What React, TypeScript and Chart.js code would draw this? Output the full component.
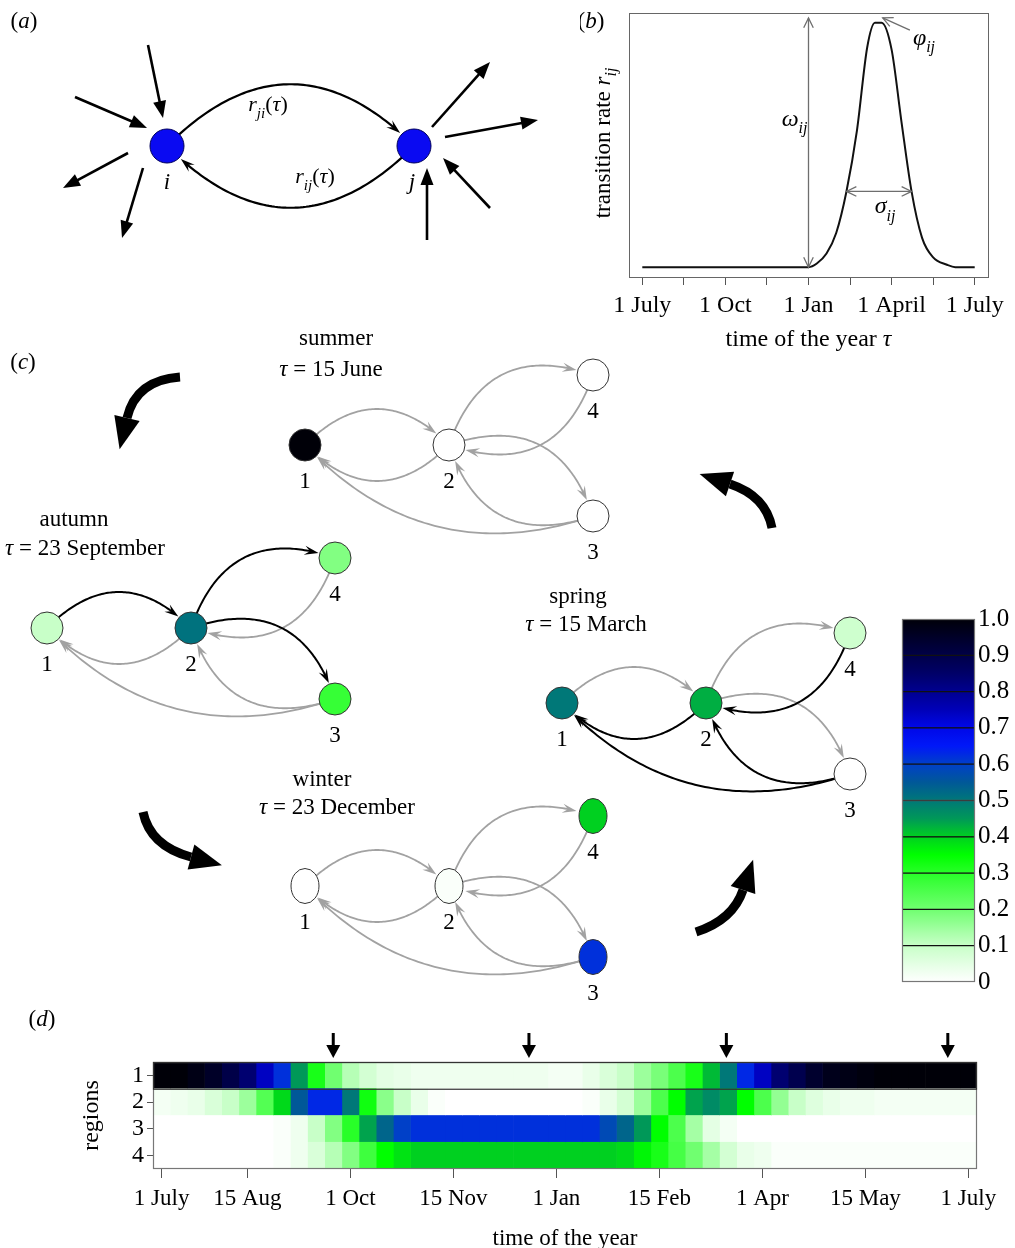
import React, { useEffect, useRef } from 'react';
import { Chart, registerables } from 'chart.js';
Chart.register(...registerables);

const FONT = '"Liberation Serif", "Times New Roman", serif';
Chart.defaults.font.family = FONT;
Chart.defaults.color = '#000';

// ---------------- colour scale ----------------
const CMAP_STOPS = [0, 0.1, 0.2, 0.3, 0.35, 0.4, 0.45, 0.5, 0.55, 0.6, 0.65, 0.7, 0.75, 0.8, 0.85, 0.9, 1.0];
const CMAP_COLORS = ['#ffffff', '#c8ffc8', '#70ff70', '#28ff28', '#00ff00', '#00d020', '#009858', '#007878', '#005898', '#0040c8', '#0018f8', '#0008e8', '#0000b8', '#000090', '#000068', '#000048', '#000008'];

// ---------------- panel (d): heat map ----------------
const HEAT_ROWS = ['1', '2', '3', '4'];
const REGION1 = [1.0, 1.0, 0.98, 0.95, 0.9, 0.84, 0.74, 0.62, 0.45, 0.32, 0.2, 0.12, 0.08, 0.05, 0.04, 0.03, 0.03, 0.03, 0.03, 0.03, 0.03, 0.03, 0.03, 0.02,
  0.02, 0.04, 0.07, 0.1, 0.15, 0.19, 0.25, 0.32, 0.42, 0.5, 0.63, 0.74, 0.84, 0.89, 0.94, 0.97, 0.98, 0.99, 1.0, 1.0, 1.0, 1.0, 1.0, 1.0];
const REGION2 = [0.02, 0.03, 0.04, 0.07, 0.1, 0.15, 0.24, 0.39, 0.55, 0.63, 0.63, 0.5, 0.33, 0.17, 0.1, 0.04, 0.01, 0, 0, 0, 0, 0, 0, 0,
  0, 0.01, 0.04, 0.08, 0.15, 0.25, 0.35, 0.44, 0.47, 0.44, 0.35, 0.25, 0.16, 0.1, 0.06, 0.04, 0.03, 0.03, 0.02, 0.02, 0.02, 0.02, 0.02, 0.02];
const REGION3 = [0, 0, 0, 0, 0, 0, 0, 0.01, 0.03, 0.1, 0.18, 0.3, 0.44, 0.53, 0.6, 0.62, 0.62, 0.62, 0.62, 0.62, 0.62, 0.62, 0.62, 0.62,
  0.62, 0.62, 0.58, 0.53, 0.45, 0.35, 0.25, 0.14, 0.05, 0.02, 0, 0, 0, 0, 0, 0, 0, 0, 0, 0, 0, 0, 0, 0];
const REGION4 = [0, 0, 0, 0, 0, 0, 0, 0.01, 0.03, 0.07, 0.12, 0.18, 0.27, 0.35, 0.38, 0.4, 0.4, 0.4, 0.4, 0.4, 0.4, 0.4, 0.4, 0.4,
  0.4, 0.4, 0.4, 0.39, 0.36, 0.32, 0.26, 0.2, 0.14, 0.08, 0.04, 0.03, 0.01, 0.01, 0.01, 0.01, 0.01, 0.01, 0.01, 0.01, 0.01, 0.01, 0.01, 0.01];
const HEAT_TICK_POS = [0.5, 5.5, 11.5, 17.5, 23.5, 29.5, 35.5, 41.5, 47.5];
const HEAT_TICK_LABELS = ['1 July', '15 Aug', '1 Oct', '15 Nov', '1 Jan', '15 Feb', '1 Apr', '15 May', '1 July'];
const SEASON_MARKERS = [10.5, 21.9, 33.4, 46.3];

// ---------------- panel (b): transition rate ----------------
const RATE_MONTHS = [0, 6, 6.3, 6.65, 7.0, 7.37, 7.75, 8.12, 8.4, 8.64, 9.0, 9.35, 9.72, 10.1, 10.5, 11.0, 11.3, 12];
const RATE_VALUES = [0, 0, 0.015, 0.056, 0.14, 0.31, 0.56, 0.9, 1.0, 1.0, 0.89, 0.6, 0.31, 0.12, 0.04, 0.01, 0, 0];
const RATE_TICK_POS = [0, 1.5, 3, 4.5, 6, 7.5, 9, 10.5, 12];
const RATE_TICK_LABELS = ['1 July', '', '1 Oct', '', '1 Jan', '', '1 April', '', '1 July'];
const OMEGA_MONTH = 6;
const SIGMA_LEVEL = 0.31;
const SIGMA_FROM = 7.37;
const SIGMA_TO = 9.72;

// ---------------- colour bar ----------------
const CB_BREAKS = [0, 0.1, 0.2, 0.3, 0.4, 0.5, 0.6, 0.7, 0.8, 0.9, 1.0];
const CB_LABELS = ['0', '0.1', '0.2', '0.3', '0.4', '0.5', '0.6', '0.7', '0.8', '0.9', '1.0'];

// ---------------- panel (c): seasonal networks ----------------
const SEASON_NAMES = ['summer', 'autumn', 'winter', 'spring'];
const SEASON_DATES = ['15 June', '23 September', '23 December', '15 March'];
// node order: region 1, 2, 3, 4
const SUMMER_NODE_VALUES = [1.0, 0.0, 0.0, 0.0];
const AUTUMN_NODE_VALUES = [0.1, 0.51, 0.28, 0.18];
const WINTER_NODE_VALUES = [0.0, 0.01, 0.62, 0.4];
const SPRING_NODE_VALUES = [0.5, 0.43, 0.0, 0.09];
const NODE_NAMES = ['1', '2', '3', '4'];
const EDGE_LIST = [[1, 2], [2, 1], [2, 4], [4, 2], [2, 3], [3, 2], [3, 1]];
const SUMMER_ACTIVE = [0, 0, 0, 0, 0, 0, 0];
const AUTUMN_ACTIVE = [1, 0, 1, 0, 1, 0, 0];
const WINTER_ACTIVE = [0, 0, 0, 0, 0, 0, 0];
const SPRING_ACTIVE = [0, 1, 0, 1, 0, 1, 1];

// ---------------- layout (positions / styles) ----------------
const NET_ORIGINS = [[305, 445], [47, 628], [305, 886], [562, 703]];
const NET_SHAPE = [[0, 0], [144, 0], [288, 71], [288, -70]];
const TITLE_POS = [[336, 337, 331, 368], [74, 518, 85, 547], [322, 778, 337, 806], [578, 595, 586, 623]];
const A_NODE_POS = [[167, 146], [414, 146]];
const A_ARROWS = [[148, 45, 163, 118], [75, 97, 147, 128], [128, 153, 63, 188], [143, 168, 122, 238],
  [432, 127, 490, 62], [445, 137, 538, 120], [490, 208, 443, 158], [427, 240, 427, 168]];
const BIG_ARROWS = [
  { t: [180, 377], c: [136, 380], e: [127, 418] },
  { t: [143, 812], c: [150, 846], e: [191, 857] },
  { t: [696, 932], c: [733, 920], e: [743, 890] },
  { t: [772, 528], c: [766, 496], e: [730, 484] },
];
const NODE_R = 16;
const GRAY = '#a2a2a2';

function hexRgb(h: string) {
  return [parseInt(h.slice(1, 3), 16), parseInt(h.slice(3, 5), 16), parseInt(h.slice(5, 7), 16)];
}
function cmap(v: number): string {
  const x = Math.max(0, Math.min(1, v));
  let k = 0;
  while (k < CMAP_STOPS.length - 2 && x > CMAP_STOPS[k + 1]) k++;
  const t = (x - CMAP_STOPS[k]) / (CMAP_STOPS[k + 1] - CMAP_STOPS[k]);
  const a = hexRgb(CMAP_COLORS[k]);
  const b = hexRgb(CMAP_COLORS[k + 1]);
  const c = a.map((av, i) => Math.round(av + (b[i] - av) * t));
  return `rgb(${c[0]},${c[1]},${c[2]})`;
}

type Seg = { t: string; it?: boolean; sub?: boolean };
function drawRich(ctx: CanvasRenderingContext2D, segs: Seg[], x: number, y: number, size: number, align = 'center') {
  const fontOf = (s: Seg) => `${s.it ? 'italic ' : ''}${s.sub ? Math.round(size * 0.68) : size}px ${FONT}`;
  let w = 0;
  const ws = segs.map((s) => { ctx.font = fontOf(s); const m = ctx.measureText(s.t).width; w += m; return m; });
  let cx = align === 'left' ? x : align === 'right' ? x - w : x - w / 2;
  ctx.textAlign = 'left';
  ctx.textBaseline = 'alphabetic';
  segs.forEach((s, i) => {
    ctx.font = fontOf(s);
    ctx.fillText(s.t, cx, y + size * 0.33 + (s.sub ? size * 0.3 : 0));
    cx += ws[i];
  });
}
function drawRotRich(ctx: CanvasRenderingContext2D, segs: Seg[], x: number, y: number, size: number) {
  ctx.save();
  ctx.translate(x, y);
  ctx.rotate(-Math.PI / 2);
  drawRich(ctx, segs, 0, 0, size, 'center');
  ctx.restore();
}

function drawCurvedEdge(ctx: CanvasRenderingContext2D, p1: any, p2: any, curv: number, color: string, width: number, rEnd: number) {
  const dx = p2.x - p1.x, dy = p2.y - p1.y;
  const L = Math.hypot(dx, dy);
  const nx = dy / L, ny = -dx / L;
  const cx = (p1.x + p2.x) / 2 + nx * curv * L;
  const cy = (p1.y + p2.y) / 2 + ny * curv * L;
  const B = (t: number) => ({
    x: (1 - t) * (1 - t) * p1.x + 2 * (1 - t) * t * cx + t * t * p2.x,
    y: (1 - t) * (1 - t) * p1.y + 2 * (1 - t) * t * cy + t * t * p2.y,
  });
  let tEnd = 1;
  for (let t = 1; t > 0; t -= 0.001) {
    const p = B(t);
    if (Math.hypot(p.x - p2.x, p.y - p2.y) >= rEnd + 1) { tEnd = t; break; }
  }
  const tip = B(tEnd);
  const len = 14, hw = 4.5;
  let tNotch = tEnd;
  for (let t = tEnd; t > 0; t -= 0.001) {
    const p = B(t);
    if (Math.hypot(p.x - tip.x, p.y - tip.y) >= len * 0.55) { tNotch = t; break; }
  }
  let tBack = tEnd;
  for (let t = tEnd; t > 0; t -= 0.001) {
    const p = B(t);
    if (Math.hypot(p.x - tip.x, p.y - tip.y) >= len) { tBack = t; break; }
  }
  const bp = B(tBack);
  const ux = (tip.x - bp.x) / len, uy = (tip.y - bp.y) / len;
  ctx.save();
  ctx.strokeStyle = color;
  ctx.fillStyle = color;
  ctx.lineWidth = width;
  ctx.lineCap = 'round';
  ctx.beginPath();
  for (let i = 0; i <= 80; i++) {
    const p = B((tNotch * i) / 80);
    if (i === 0) ctx.moveTo(p.x, p.y); else ctx.lineTo(p.x, p.y);
  }
  ctx.stroke();
  const bx = tip.x - ux * len, by = tip.y - uy * len;
  const nX = tip.x - ux * len * 0.62, nY = tip.y - uy * len * 0.62;
  ctx.beginPath();
  ctx.moveTo(tip.x, tip.y);
  ctx.lineTo(bx - uy * hw, by + ux * hw);
  ctx.lineTo(nX, nY);
  ctx.lineTo(bx + uy * hw, by - ux * hw);
  ctx.closePath();
  ctx.fill();
  ctx.restore();
}

function drawStraightArrow(ctx: CanvasRenderingContext2D, x1: number, y1: number, x2: number, y2: number) {
  const L = Math.hypot(x2 - x1, y2 - y1);
  const ux = (x2 - x1) / L, uy = (y2 - y1) / L;
  const hl = 17, hw = 6.5;
  const bx = x2 - ux * hl, by = y2 - uy * hl;
  ctx.save();
  ctx.strokeStyle = '#000';
  ctx.fillStyle = '#000';
  ctx.lineWidth = 2.6;
  ctx.beginPath();
  ctx.moveTo(x1, y1);
  ctx.lineTo(bx + ux * 2, by + uy * 2);
  ctx.stroke();
  ctx.beginPath();
  ctx.moveTo(x2, y2);
  ctx.lineTo(bx - uy * hw, by + ux * hw);
  ctx.lineTo(bx + uy * hw, by - ux * hw);
  ctx.closePath();
  ctx.fill();
  ctx.restore();
}

function drawBigArrow(ctx: CanvasRenderingContext2D, a: any) {
  const [tx, ty] = a.t, [cx, cy] = a.c, [ex, ey] = a.e;
  let ux = ex - cx, uy = ey - cy;
  const l = Math.hypot(ux, uy);
  ux /= l; uy /= l;
  ctx.save();
  ctx.strokeStyle = '#000';
  ctx.fillStyle = '#000';
  ctx.lineWidth = 9;
  ctx.lineCap = 'butt';
  ctx.beginPath();
  ctx.moveTo(tx, ty);
  ctx.quadraticCurveTo(cx, cy, ex, ey);
  ctx.stroke();
  const hl = 32, hw = 13;
  ctx.beginPath();
  ctx.moveTo(ex + ux * hl, ey + uy * hl);
  ctx.lineTo(ex - uy * hw, ey + ux * hw);
  ctx.lineTo(ex + uy * hw, ey - ux * hw);
  ctx.closePath();
  ctx.fill();
  ctx.restore();
}

function openHead(ctx: CanvasRenderingContext2D, x: number, y: number, ux: number, uy: number) {
  const len = 11, ang = 0.45;
  const ca = Math.cos(ang), sa = Math.sin(ang);
  const b1x = -(ux * ca - uy * sa), b1y = -(ux * sa + uy * ca);
  const b2x = -(ux * ca + uy * sa), b2y = -(-ux * sa + uy * ca);
  ctx.beginPath();
  ctx.moveTo(x + b1x * len, y + b1y * len);
  ctx.lineTo(x, y);
  ctx.lineTo(x + b2x * len, y + b2y * len);
  ctx.stroke();
}

function ellipseImage(color: string) {
  const c = document.createElement('canvas');
  c.width = 32; c.height = 38;
  const g = c.getContext('2d')!;
  g.beginPath();
  g.ellipse(16, 19, 14, 17.5, 0, 0, Math.PI * 2);
  g.fillStyle = color;
  g.fill();
  g.strokeStyle = '#333';
  g.lineWidth = 1;
  g.stroke();
  return c;
}

export default function App() {
  const netRef = useRef<HTMLCanvasElement>(null);
  const rateRef = useRef<HTMLCanvasElement>(null);
  const cbRef = useRef<HTMLCanvasElement>(null);
  const heatRef = useRef<HTMLCanvasElement>(null);

  useEffect(() => {
    const charts: Chart[] = [];
    let cancelled = false;

    const build = () => {
      if (cancelled) return;
      // ---------- network canvas (panels a and c) ----------
      const seasonValues = [SUMMER_NODE_VALUES, AUTUMN_NODE_VALUES, WINTER_NODE_VALUES, SPRING_NODE_VALUES];
      const seasonActive = [SUMMER_ACTIVE, AUTUMN_ACTIVE, WINTER_ACTIVE, SPRING_ACTIVE];
      const winterImgs = WINTER_NODE_VALUES.map((v) => ellipseImage(cmap(v)));
      const netDatasets: any[] = [
        {
          data: A_NODE_POS.map(([x, y]) => ({ x, y })),
          pointRadius: 17,
          pointBackgroundColor: '#0a0af2',
          pointBorderColor: '#00005a',
          pointBorderWidth: 1,
          clip: false,
        },
      ];
      seasonValues.forEach((vals, s) => {
        const [ox, oy] = NET_ORIGINS[s];
        netDatasets.push({
          data: NET_SHAPE.map(([dx, dy]) => ({ x: ox + dx, y: oy + dy })),
          pointRadius: NODE_R,
          pointBackgroundColor: vals.map((v) => cmap(v)),
          pointBorderColor: '#333',
          pointBorderWidth: 1,
          pointStyle: s === 2 ? (c: any) => winterImgs[c.dataIndex] : 'circle',
          clip: false,
        });
      });

      const netPlugin = {
        id: 'netPlugin',
        beforeDatasetsDraw(chart: any) {
          const ctx = chart.ctx;
          const a = chart.getDatasetMeta(0).data;
          drawCurvedEdge(ctx, a[0], a[1], 0.5, '#000', 2.2, 18);
          drawCurvedEdge(ctx, a[1], a[0], 0.5, '#000', 2.2, 18);
          A_ARROWS.forEach(([x1, y1, x2, y2]) => drawStraightArrow(ctx, x1, y1, x2, y2));
          for (let s = 0; s < 4; s++) {
            const pts = chart.getDatasetMeta(s + 1).data;
            const act = seasonActive[s];
            [0, 1].forEach((pass) => {
              EDGE_LIST.forEach(([f, t], k) => {
                if ((act[k] ? 1 : 0) !== pass) return;
                const curv = f === 3 && t === 1 ? 0.32 : 0.5;
                drawCurvedEdge(ctx, pts[f - 1], pts[t - 1], curv, act[k] ? '#000' : GRAY, act[k] ? 2 : 1.8, NODE_R);
              });
            });
          }
          BIG_ARROWS.forEach((b) => drawBigArrow(ctx, b));
        },
        afterDatasetsDraw(chart: any) {
          const ctx = chart.ctx;
          ctx.save();
          ctx.fillStyle = '#000';
          drawRich(ctx, [{ t: '(' }, { t: 'a', it: true }, { t: ')' }], 24, 20, 23);
          drawRich(ctx, [{ t: '(' }, { t: 'c', it: true }, { t: ')' }], 23, 361, 23);
          const a = chart.getDatasetMeta(0).data;
          drawRich(ctx, [{ t: 'i', it: true }], a[0].x, a[0].y + 35, 23);
          drawRich(ctx, [{ t: 'j', it: true }], a[1].x - 2, a[1].y + 35, 23);
          drawRich(ctx, [{ t: 'r', it: true }, { t: 'ji', it: true, sub: true }, { t: '(' }, { t: 'τ', it: true }, { t: ')' }], 268, 104, 22);
          drawRich(ctx, [{ t: 'r', it: true }, { t: 'ij', it: true, sub: true }, { t: '(' }, { t: 'τ', it: true }, { t: ')' }], 315, 176, 22);
          for (let s = 0; s < 4; s++) {
            const pts = chart.getDatasetMeta(s + 1).data;
            pts.forEach((p: any, i: number) => drawRich(ctx, [{ t: NODE_NAMES[i] }], p.x, p.y + 35, 23));
            const [x1, y1, x2, y2] = TITLE_POS[s];
            drawRich(ctx, [{ t: SEASON_NAMES[s] }], x1, y1, 23);
            drawRich(ctx, [{ t: 'τ', it: true }, { t: ' = ' + SEASON_DATES[s] }], x2, y2, 23);
          }
          ctx.restore();
        },
      };

      charts.push(new Chart(netRef.current!, {
        type: 'scatter',
        data: { datasets: netDatasets },
        options: {
          responsive: false,
          animation: false,
          events: [],
          layout: { padding: 0, autoPadding: false },
          plugins: { legend: { display: false }, tooltip: { enabled: false } },
          scales: {
            x: { type: 'linear', min: 0, max: 1015, display: false },
            y: { type: 'linear', min: 0, max: 1248, reverse: true, display: false },
          },
        },
        plugins: [netPlugin],
      } as any));

      // ---------- panel (b) ----------
      const ratePlugin = {
        id: 'ratePlugin',
        afterDraw(chart: any) {
          const { ctx, chartArea: ar, scales } = chart;
          const x = scales.x, y = scales.y;
          ctx.save();
          ctx.strokeStyle = '#666';
          ctx.lineWidth = 1;
          ctx.strokeRect(ar.left + 0.5, ar.top + 0.5, ar.width, ar.height);
          ctx.strokeStyle = '#6e6e6e';
          ctx.lineWidth = 1.3;
          const ox = x.getPixelForValue(OMEGA_MONTH);
          const oyTop = y.getPixelForValue(1.02), oyBot = y.getPixelForValue(0);
          ctx.beginPath(); ctx.moveTo(ox, oyTop); ctx.lineTo(ox, oyBot); ctx.stroke();
          openHead(ctx, ox, oyTop, 0, -1);
          openHead(ctx, ox, oyBot, 0, 1);
          const sy = y.getPixelForValue(SIGMA_LEVEL);
          const sx1 = x.getPixelForValue(SIGMA_FROM), sx2 = x.getPixelForValue(SIGMA_TO);
          ctx.beginPath(); ctx.moveTo(sx1, sy); ctx.lineTo(sx2, sy); ctx.stroke();
          openHead(ctx, sx1, sy, -1, 0);
          openHead(ctx, sx2, sy, 1, 0);
          const px1 = x.getPixelForValue(9.66), py1 = y.getPixelForValue(0.97);
          const px2 = x.getPixelForValue(8.68), py2 = y.getPixelForValue(1.02);
          ctx.beginPath(); ctx.moveTo(px1, py1); ctx.lineTo(px2, py2); ctx.stroke();
          const pl = Math.hypot(px2 - px1, py2 - py1);
          openHead(ctx, px2, py2, (px2 - px1) / pl, (py2 - py1) / pl);
          ctx.fillStyle = '#000';
          drawRich(ctx, [{ t: 'ω', it: true }, { t: 'ij', it: true, sub: true }], ox - 1, y.getPixelForValue(0.61), 24, 'right');
          drawRich(ctx, [{ t: 'σ', it: true }, { t: 'ij', it: true, sub: true }], (sx1 + sx2) / 2 + 6, sy + 14, 24);
          drawRich(ctx, [{ t: 'φ', it: true }, { t: 'ij', it: true, sub: true }], px1 + 3, py1 + 7, 24, 'left');
          drawRotRich(ctx, [{ t: 'transition rate ' }, { t: 'r', it: true }, { t: 'ij', it: true, sub: true }], 22, 143, 23);
          drawRich(ctx, [{ t: 'time of the year ' }, { t: 'τ', it: true }], (ar.left + ar.right) / 2, 338, 24);
          drawRich(ctx, [{ t: '(' }, { t: 'b', it: true }, { t: ')' }], 11, 20, 23);
          ctx.restore();
        },
      };
      charts.push(new Chart(rateRef.current!, {
        type: 'line',
        data: {
          datasets: [{
            data: RATE_MONTHS.map((m, i) => ({ x: m, y: RATE_VALUES[i] })),
            borderColor: '#111',
            borderWidth: 2,
            pointRadius: 0,
            cubicInterpolationMode: 'monotone',
            fill: false,
          }],
        },
        options: {
          responsive: false,
          animation: false,
          events: [],
          layout: { padding: { top: 13, right: 27, left: 0, bottom: 0 }, autoPadding: false },
          plugins: { legend: { display: false }, tooltip: { enabled: false } },
          scales: {
            x: {
              type: 'linear', min: -0.48, max: 12.48,
              afterBuildTicks: (s: any) => { s.ticks = RATE_TICK_POS.map((v) => ({ value: v })); },
              afterFit: (s: any) => { s.height = 83; },
              grid: { display: true, drawOnChartArea: false, drawTicks: true, tickLength: 8, color: '#555' },
              border: { display: false },
              ticks: {
                autoSkip: false, maxRotation: 0, minRotation: 0, padding: 6, color: '#000',
                font: { family: FONT, size: 24 },
                callback: (_v: any, i: number) => RATE_TICK_LABELS[i],
              },
            },
            y: {
              type: 'linear', min: -0.04, max: 1.04,
              afterFit: (s: any) => { s.width = 49; },
              grid: { display: false },
              border: { display: false },
              ticks: { display: false },
            },
          },
        },
        plugins: [ratePlugin],
      } as any));

      // ---------- colour bar ----------
      const cbDatasets = CB_BREAKS.slice(0, -1).map((lo, k) => {
        const hi = CB_BREAKS[k + 1];
        return {
          data: [[lo, hi]],
          backgroundColor: (c: any) => {
            const chart = c.chart;
            const ys = chart.scales && chart.scales.y;
            if (!chart.chartArea || !ys) return cmap((lo + hi) / 2);
            const g = chart.ctx.createLinearGradient(0, ys.getPixelForValue(lo), 0, ys.getPixelForValue(hi));
            for (let i = 0; i <= 6; i++) g.addColorStop(i / 6, cmap(lo + ((hi - lo) * i) / 6));
            return g;
          },
          borderColor: '#111',
          borderWidth: { top: 1, bottom: 1, left: 0, right: 0 },
          borderSkipped: false,
          grouped: false,
          barPercentage: 1,
          categoryPercentage: 1,
        };
      });
      const cbPlugin = {
        id: 'cbPlugin',
        afterDatasetsDraw(chart: any) {
          const { ctx, chartArea: ar } = chart;
          ctx.save();
          ctx.strokeStyle = '#777';
          ctx.lineWidth = 1.2;
          ctx.strokeRect(ar.left + 0.5, ar.top + 0.5, ar.width - 1, ar.height - 1);
          ctx.restore();
        },
      };
      charts.push(new Chart(cbRef.current!, {
        type: 'bar',
        data: { labels: [''], datasets: cbDatasets },
        options: {
          responsive: false,
          animation: false,
          events: [],
          layout: { padding: { left: 22, top: 19, bottom: 18, right: 0 }, autoPadding: false },
          plugins: { legend: { display: false }, tooltip: { enabled: false } },
          scales: {
            x: { display: false },
            y: {
              type: 'linear', position: 'right', min: 0, max: 1,
              afterBuildTicks: (s: any) => { s.ticks = CB_BREAKS.map((v) => ({ value: v })); },
              afterFit: (s: any) => { s.width = 40; },
              grid: { display: false, drawTicks: false },
              border: { display: false },
              ticks: {
                autoSkip: false, padding: 3, color: '#000', font: { family: FONT, size: 25 },
                callback: (_v: any, i: number) => CB_LABELS[i],
              },
            },
          },
        },
        plugins: [cbPlugin],
      } as any));

      // ---------- panel (d): heat map ----------
      const heat = [REGION1, REGION2, REGION3, REGION4];
      const nCols = REGION1.length;
      const heatDatasets = Array.from({ length: nCols }, (_, k) => ({
        data: heat.map(() => [k, k + 1]),
        backgroundColor: heat.map((r) => cmap(r[k])),
        borderWidth: 0,
        grouped: false,
        barPercentage: 1,
        categoryPercentage: 1,
      }));
      const heatPlugin = {
        id: 'heatPlugin',
        afterDraw(chart: any) {
          const { ctx, chartArea: ar, scales } = chart;
          ctx.save();
          ctx.strokeStyle = '#777';
          ctx.lineWidth = 1.2;
          ctx.strokeRect(ar.left + 0.5, ar.top + 0.5, ar.width - 1, ar.height - 1);
          const yb = (scales.y.getPixelForValue(0) + scales.y.getPixelForValue(1)) / 2;
          ctx.strokeStyle = '#333';
          ctx.strokeRect(ar.left + 0.5, ar.top + 0.5, ar.width - 1, yb - ar.top);
          ctx.fillStyle = '#000';
          ctx.strokeStyle = '#000';
          SEASON_MARKERS.forEach((m) => {
            const px = scales.x.getPixelForValue(m);
            ctx.lineWidth = 3;
            ctx.beginPath();
            ctx.moveTo(px, ar.top - 29);
            ctx.lineTo(px, ar.top - 14);
            ctx.stroke();
            ctx.beginPath();
            ctx.moveTo(px - 7, ar.top - 17);
            ctx.lineTo(px + 7, ar.top - 17);
            ctx.lineTo(px, ar.top - 4);
            ctx.closePath();
            ctx.fill();
          });
          drawRich(ctx, [{ t: '(' }, { t: 'd', it: true }, { t: ')' }], 42, 18, 23);
          drawRich(ctx, [{ t: 'time of the year' }], (ar.left + ar.right) / 2, 237, 23);
          drawRotRich(ctx, [{ t: 'regions' }], 90, (ar.top + ar.bottom) / 2, 24);
          ctx.restore();
        },
      };
      charts.push(new Chart(heatRef.current!, {
        type: 'bar',
        data: { labels: HEAT_ROWS, datasets: heatDatasets },
        options: {
          indexAxis: 'y',
          responsive: false,
          animation: false,
          events: [],
          layout: { padding: { top: 62, right: 38, left: 0, bottom: 0 }, autoPadding: false },
          plugins: { legend: { display: false }, tooltip: { enabled: false } },
          scales: {
            x: {
              type: 'linear', min: 0, max: nCols,
              afterBuildTicks: (s: any) => { s.ticks = HEAT_TICK_POS.map((v) => ({ value: v })); },
              afterFit: (s: any) => { s.height = 79; },
              grid: { display: true, drawOnChartArea: false, drawTicks: true, tickLength: 9, color: '#555' },
              border: { display: false },
              ticks: {
                autoSkip: false, maxRotation: 0, minRotation: 0, padding: 7, color: '#000',
                font: { family: FONT, size: 23 },
                callback: (_v: any, i: number) => HEAT_TICK_LABELS[i],
              },
            },
            y: {
              type: 'category',
              afterFit: (s: any) => { s.width = 153; },
              grid: { display: true, drawOnChartArea: false, offset: false, tickLength: 6, color: '#555' },
              border: { display: false },
              ticks: { autoSkip: false, padding: 3, color: '#000', font: { family: FONT, size: 24 } },
            },
          },
        },
        plugins: [heatPlugin],
      } as any));
    };

    const fonts: any = (document as any).fonts;
    if (fonts && fonts.load) {
      Promise.all([
        fonts.load('23px "Liberation Serif"'),
        fonts.load('italic 23px "Liberation Serif"'),
      ]).then(build, build);
    } else {
      build();
    }

    return () => {
      cancelled = true;
      charts.forEach((c) => c.destroy());
    };
  }, []);

  return (
    <div style={{ position: 'absolute', left: 0, top: 0, width: 1015, height: 1248, background: '#fff', overflow: 'hidden' }}>
      <canvas ref={netRef} width={1015} height={1248} style={{ position: 'absolute', left: 0, top: 0 }} />
      <canvas ref={rateRef} width={435} height={360} style={{ position: 'absolute', left: 580, top: 0 }} />
      <canvas ref={cbRef} width={135} height={400} style={{ position: 'absolute', left: 880, top: 600 }} />
      <canvas ref={heatRef} width={1015} height={248} style={{ position: 'absolute', left: 0, top: 1000 }} />
    </div>
  );
}
